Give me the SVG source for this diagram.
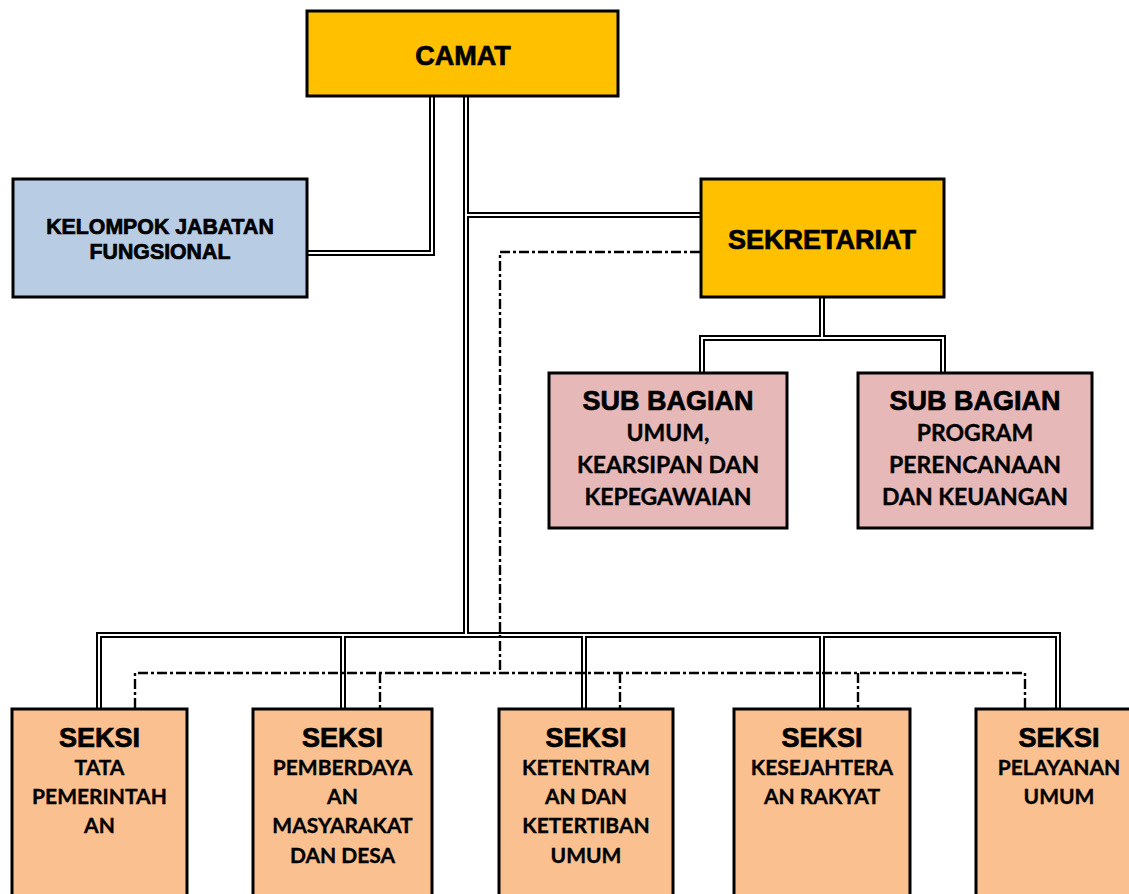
<svg xmlns="http://www.w3.org/2000/svg" xmlns:xlink="http://www.w3.org/1999/xlink" width="1129" height="894" viewBox="0 0 1129 894">
<style>
.box{stroke:#000;stroke-width:3}
.gold{fill:#FFC000}
.blue{fill:#B8CCE4}
.pink{fill:#E6B8B7}
.peach{fill:#FAC090}
.h{font-family:"Liberation Sans",Arial,sans-serif;font-weight:bold;fill:#000;text-anchor:middle;stroke:#000;stroke-width:0.7}
.c{font-family:Lato,"Noto Sans",sans-serif;font-weight:bold;fill:#000;text-anchor:middle;font-size:21px;stroke:#000;stroke-width:0.35}
.c2{font-size:23px}
.out{fill:none;stroke:#000;stroke-width:6}
.in{fill:none;stroke:#fff;stroke-width:2}
.dd{fill:none;stroke:#000;stroke-width:2.4;stroke-dasharray:10 3 3 3}
</style>
<defs>
<path id="p1" d="M432,97 V253 H308"/>
<path id="p2" d="M466,97 V635"/>
<path id="p3" d="M466,215 H700"/>
<path id="p4" d="M822,298 V338"/>
<path id="p5" d="M702,372 V338 H943 V372"/>
<path id="p6" d="M99,708 V635 H1058 V708"/>
<path id="p7" d="M343,635 V708"/>
<path id="p8" d="M584,635 V708"/>
<path id="p9" d="M822,635 V708"/>
</defs>
<rect width="1129" height="894" fill="#fff"/>
<g id="connectors">
<g class="out">
<use xlink:href="#p1"/><use xlink:href="#p2"/><use xlink:href="#p3"/><use xlink:href="#p4"/><use xlink:href="#p5"/><use xlink:href="#p6"/><use xlink:href="#p7"/><use xlink:href="#p8"/><use xlink:href="#p9"/>
</g>
<g class="in">
<use xlink:href="#p1"/><use xlink:href="#p2"/><use xlink:href="#p3"/><use xlink:href="#p4"/><use xlink:href="#p5"/><use xlink:href="#p6"/><use xlink:href="#p7"/><use xlink:href="#p8"/><use xlink:href="#p9"/>
</g>
<path class="dd" d="M700,252 H500 V673"/>
<path class="dd" d="M135,708 V673 H1025 V708"/>
<path class="dd" d="M380,673 V708 M620,673 V708 M858,673 V708"/>
</g>
<g id="camat">
<rect class="box gold" x="307" y="11" width="311" height="85"/>
<text class="h" x="463" y="64.5" font-size="27">CAMAT</text>
</g>
<g id="kelompok">
<rect class="box blue" x="13" y="179" width="294" height="118"/>
<text class="h" x="160" y="233.5" font-size="21.3">KELOMPOK JABATAN</text>
<text class="h" x="160" y="258.5" font-size="21.3">FUNGSIONAL</text>
</g>
<g id="sekretariat">
<rect class="box gold" x="701" y="179" width="243" height="118"/>
<text class="h" x="822" y="248.5" font-size="27">SEKRETARIAT</text>
</g>
<g id="subbag-umum">
<rect class="box pink" x="549" y="373" width="238" height="155"/>
<text class="h" x="668" y="409.5" font-size="27">SUB BAGIAN</text>
<text class="c c2" x="668" y="441">UMUM,</text>
<text class="c c2" x="668" y="473">KEARSIPAN DAN</text>
<text class="c c2" x="668" y="505">KEPEGAWAIAN</text>
</g>
<g id="subbag-program">
<rect class="box pink" x="858" y="373" width="234" height="155"/>
<text class="h" x="975" y="409.5" font-size="27">SUB BAGIAN</text>
<text class="c c2" x="975" y="441">PROGRAM</text>
<text class="c c2" x="975" y="473">PERENCANAAN</text>
<text class="c c2" x="975" y="505">DAN KEUANGAN</text>
</g>
<g id="seksi-tapem">
<rect class="box peach" x="12" y="709" width="175" height="200"/>
<text class="h" x="99.5" y="746.5" font-size="27">SEKSI</text>
<text class="c" x="99.5" y="774.5">TATA</text>
<text class="c" x="99.5" y="803.5">PEMERINTAH</text>
<text class="c" x="99.5" y="832.5">AN</text>
</g>
<g id="seksi-pmd">
<rect class="box peach" x="253" y="709" width="179" height="200"/>
<text class="h" x="342.5" y="746.5" font-size="27">SEKSI</text>
<text class="c" x="342.5" y="774.5">PEMBERDAYA</text>
<text class="c" x="342.5" y="803.5">AN</text>
<text class="c" x="342.5" y="832.5">MASYARAKAT</text>
<text class="c" x="342.5" y="862.5">DAN DESA</text>
</g>
<g id="seksi-trantib">
<rect class="box peach" x="499" y="709" width="174" height="200"/>
<text class="h" x="586" y="746.5" font-size="27">SEKSI</text>
<text class="c" x="586" y="774.5">KETENTRAM</text>
<text class="c" x="586" y="803.5">AN DAN</text>
<text class="c" x="586" y="832.5">KETERTIBAN</text>
<text class="c" x="586" y="862.5">UMUM</text>
</g>
<g id="seksi-kesra">
<rect class="box peach" x="734" y="709" width="176" height="200"/>
<text class="h" x="822" y="746.5" font-size="27">SEKSI</text>
<text class="c" x="822" y="774.5">KESEJAHTERA</text>
<text class="c" x="822" y="803.5">AN RAKYAT</text>
</g>
<g id="seksi-pelayanan">
<rect class="box peach" x="976" y="709" width="170" height="200"/>
<text class="h" x="1059" y="746.5" font-size="27">SEKSI</text>
<text class="c" x="1059" y="774.5">PELAYANAN</text>
<text class="c" x="1059" y="803.5">UMUM</text>
</g>
</svg>
